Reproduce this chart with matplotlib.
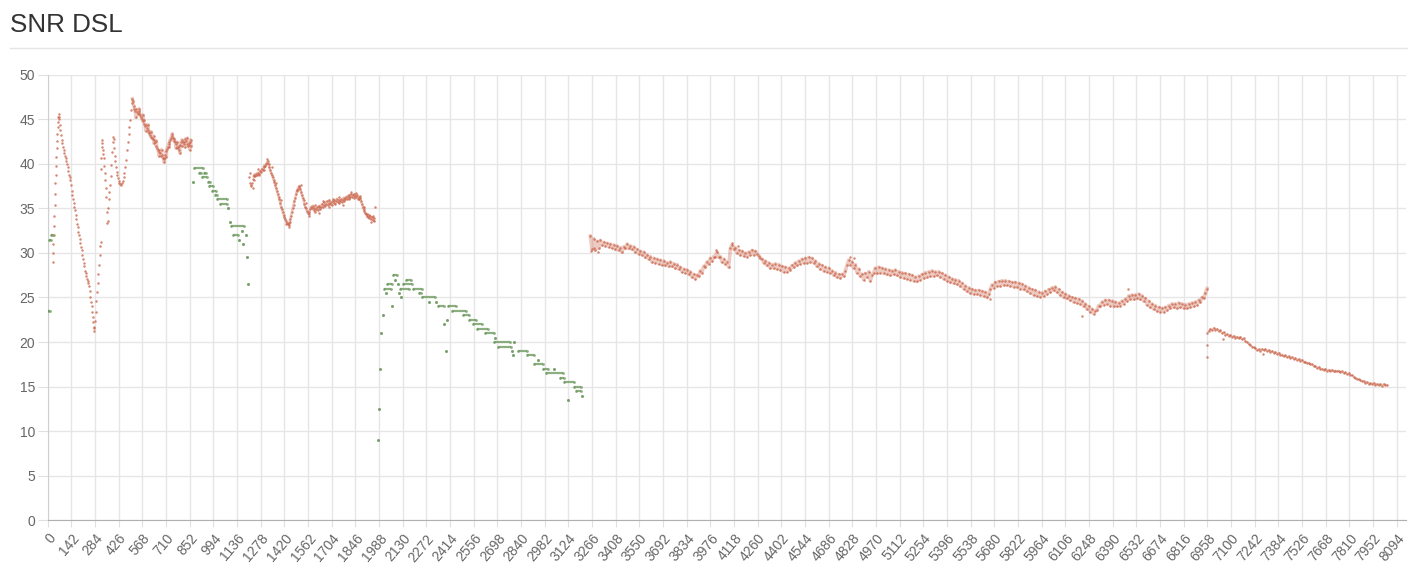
import numpy as np
import matplotlib.pyplot as plt
from matplotlib.lines import Line2D

# SNR readings, orange series. First block read at uneven spacing (steep parts)
seg_a = [
    (30, 29.0), (32, 30.0), (34, 31.0), (36, 32.0), (38, 33.0), (40, 34.2), (42, 35.4), (44, 36.6),
    (46, 37.8), (48, 38.8), (50, 39.8), (52, 40.8), (54, 41.8), (56, 42.6), (58, 43.4), (60, 44.1),
    (62, 44.7), (64, 45.2), (66, 45.6), (68, 45.3), (70, 45.0), (73, 44.4), (76, 43.8), (80, 43.2),
    (84, 42.7), (88, 42.3), (92, 41.9), (96, 41.6), (100, 41.2), (104, 40.9), (108, 40.6), (112, 40.3),
    (116, 40.0), (120, 39.6), (124, 39.2), (128, 38.8), (132, 38.5), (136, 38.2), (140, 37.6), (144, 37.0),
    (148, 36.5), (152, 36.0), (156, 35.6), (160, 35.2), (164, 34.8), (168, 34.3), (172, 33.8), (176, 33.3),
    (180, 32.9), (184, 32.4), (188, 32.0), (192, 31.6), (196, 31.1), (200, 30.7), (204, 30.3), (208, 29.8),
    (212, 29.3), (216, 28.9), (220, 28.5), (224, 28.0), (228, 27.7), (232, 27.4), (236, 27.1), (240, 26.9),
    (244, 26.6), (248, 26.3), (252, 25.7), (256, 25.1), (260, 24.5), (263, 24.0), (266, 23.4), (269, 22.8),
    (272, 22.2), (275, 21.7), (277, 21.2), (280, 21.6), (284, 22.4), (288, 23.4), (292, 24.6), (296, 25.6),
    (300, 26.6), (304, 27.6), (308, 28.7), (312, 29.8), (316, 30.8), (318, 31.2),
    (320, 39.4), (322, 40.6), (324, 42.7), (326, 42.3), (328, 41.9), (331, 41.5), (334, 41.1), (337, 40.6),
    (340, 39.8), (343, 39.0), (346, 38.2), (349, 37.3), (352, 36.3), (355, 34.6), (357, 33.4), (359, 33.6),
    (362, 35.0), (366, 36.0), (370, 36.8), (374, 37.6), (378, 38.6), (382, 39.9), (386, 41.3), (390, 42.4),
    (394, 43.0), (397, 42.8), (400, 41.8), (403, 40.9), (406, 40.3), (410, 39.6), (414, 39.1), (418, 38.7),
    (422, 38.4), (426, 38.1), (430, 37.9), (435, 37.7), (440, 37.6), (445, 37.8), (450, 38.1), (455, 38.5),
    (460, 39.0), (465, 39.6), (470, 40.4), (475, 41.5), (480, 42.4), (485, 43.3), (490, 44.1), (495, 44.9),
    (500, 46.0), (504, 46.8), (508, 47.3),
    (512, 47.0), (516, 46.5), (520, 46.2), (525, 45.9), (528, 45.2), (530, 46.1), (535, 45.8), (540, 45.6),
    (545, 45.9), (548, 46.2), (550, 45.7), (555, 45.5), (560, 45.3), (565, 45.0), (570, 44.8), (572, 45.5),
    (575, 44.9), (580, 44.5), (585, 44.2), (588, 43.7), (590, 44.4), (595, 44.0), (600, 43.8), (603, 44.4),
    (605, 43.5), (610, 43.6), (615, 43.2), (620, 43.0), (622, 43.6), (625, 42.9), (630, 42.8), (635, 43.1),
    (637, 42.3), (640, 42.7), (645, 42.4), (650, 42.0), (652, 42.6), (655, 41.8), (660, 41.6), (665, 41.3),
    (668, 40.9), (670, 41.5), (675, 41.2), (680, 40.9), (683, 41.6), (685, 41.0), (690, 40.7), (695, 40.6),
    (698, 40.2), (700, 40.5), (705, 41.0), (710, 41.4), (712, 40.8), (715, 41.7), (720, 41.9), (725, 42.2),
    (728, 41.9), (730, 42.4), (735, 42.7), (740, 42.9), (745, 43.1), (748, 43.4), (750, 42.9), (755, 42.6),
    (760, 42.8), (765, 42.5), (768, 41.8), (770, 42.2), (775, 41.9), (778, 42.4), (780, 41.8), (785, 42.0),
    (790, 41.6), (793, 41.2), (795, 42.1), (800, 42.4), (805, 42.7), (808, 42.0), (810, 42.5), (815, 42.2),
    (820, 42.4), (823, 41.9), (825, 42.8), (830, 42.6), (835, 42.2), (838, 42.9), (840, 42.0), (845, 42.3),
    (850, 42.1), (852, 41.6), (855, 42.4), (858, 42.7), (860, 42.0),
]

# second orange block, every 5 samples from 1235
seg_b_start = 1235
seg_b_y = [
    38.6, 38.8, 38.6, 38.9, 38.7, 39.0, 38.8, 38.9, 39.2, 39.1,
    39.4, 39.3, 39.6, 39.8, 39.7, 40.0, 40.1, 40.3, 40.0, 39.6,
    39.3, 39.0, 38.8, 38.5, 38.2, 38.0, 37.6, 37.3, 37.0, 36.6,
    36.3, 36.0, 35.6, 35.2, 34.9, 34.6, 34.3, 34.0, 33.8, 33.6,
    33.4, 33.3, 33.1, 33.4, 33.8, 34.2, 34.6, 35.0, 35.4, 35.8,
    36.2, 36.6, 37.0, 37.2, 37.4, 37.5, 37.2, 36.8, 36.5, 36.2,
    35.9, 35.5, 35.2, 35.0, 34.7, 34.5, 34.4, 34.6, 34.9, 35.2,
    35.0, 35.3, 34.8, 35.0, 34.6, 34.9, 35.2, 34.8, 35.1, 35.3,
    34.9, 35.2, 35.5, 35.1, 35.4, 35.7, 35.3, 35.5, 35.8, 35.4,
    35.6, 35.9, 35.5, 35.7, 35.4, 35.8, 35.6, 35.9, 35.5, 35.8,
    36.1, 35.7, 35.9, 35.6, 35.8, 36.0, 35.7, 35.9, 36.2, 35.8,
    36.1, 36.3, 36.0, 36.4, 36.2, 36.5, 36.3, 36.6, 36.3, 36.5,
    36.2, 36.6, 36.4, 36.3, 36.5, 36.1, 36.3, 36.0, 36.2, 35.8,
    35.5, 35.2, 34.9, 34.7, 34.5, 34.4, 34.2, 34.0, 34.3, 33.9,
    34.1, 33.8, 34.0, 33.7, 33.9, 33.6,
]
seg_b_extra = [
    (1210, 38.5), (1212, 39.0), (1214, 37.8), (1218, 37.6), (1222, 37.5), (1226, 37.9), (1230, 38.3),
    (1232, 37.3), (1240, 38.2), (1262, 39.4), (1300, 39.3), (1318, 40.5), (1343, 39.6), (1372, 37.9),
    (1398, 35.9), (1428, 33.2), (1447, 32.9), (1456, 33.5), (1493, 37.1), (1518, 37.6), (1547, 35.6),
    (1568, 34.1), (1603, 35.4), (1627, 34.5), (1652, 35.8), (1688, 35.2), (1712, 36.1), (1748, 36.3),
    (1772, 35.4), (1808, 36.0), (1822, 36.8), (1848, 36.7), (1872, 36.4), (1897, 35.2), (1918, 34.4),
    (1942, 33.5), (1952, 34.2), (1966, 35.2),
]

# third orange block, every 10 samples from 3256 (one row = 100 samples)
seg_c_start = 3256
seg_c_y = [
    31.9, 30.4, 31.6, 30.3, 31.3, 30.5, 31.4, 30.9, 31.2, 30.8,
    31.1, 30.7, 31.0, 30.6, 30.9, 30.4, 30.8, 30.3, 30.6, 30.1,
    30.7, 30.5, 31.0, 30.5, 30.8, 30.4, 30.7, 30.1, 30.4, 29.9,
    30.2, 29.8, 30.1, 29.5, 29.8, 29.3, 29.6, 29.0, 29.4, 28.9,
    29.3, 28.8, 29.2, 28.7, 29.1, 28.6, 28.9, 28.5, 29.0, 28.5,
    28.8, 28.3, 28.7, 28.2, 28.4, 27.9, 28.2, 27.8, 28.1, 27.6,
    27.9, 27.3, 27.6, 27.1, 27.5, 27.4, 28.0, 27.8, 28.5, 28.4,
    29.0, 28.8, 29.4, 29.1, 29.6, 29.6, 30.1, 29.5, 29.6, 29.0,
    29.3, 28.8, 29.0, 28.4, 30.5, 30.9, 30.4, 30.6, 30.0, 30.3,
    29.8, 30.2, 29.7, 30.0, 29.6, 30.1, 29.8, 30.3, 29.8, 30.2,
    29.9, 29.7, 29.4, 29.3, 28.9, 29.1, 28.6, 28.9, 28.3, 28.7,
    28.3, 28.8, 28.2, 28.7, 28.1, 28.5, 27.9, 28.4, 27.9, 28.3,
    28.1, 28.6, 28.4, 28.9, 28.6, 29.1, 28.8, 29.3, 28.9, 29.4,
    28.9, 29.5, 29.0, 29.4, 28.9, 29.1, 28.5, 28.8, 28.2, 28.6,
    28.0, 28.4, 27.9, 28.3, 27.8, 28.0, 27.5, 27.8, 27.3, 27.6,
    27.2, 27.6, 27.4, 28.0, 28.6, 29.2, 28.7, 29.0, 28.3, 28.7,
    27.8, 28.2, 27.4, 27.6, 27.0, 27.7, 27.3, 27.9, 26.9, 27.5,
    27.8, 28.3, 27.7, 28.4, 27.8, 28.3, 27.7, 28.2, 27.6, 28.1,
    27.5, 28.0, 27.6, 28.1, 27.5, 27.9, 27.3, 27.8, 27.2, 27.7,
    27.1, 27.6, 27.0, 27.5, 26.9, 27.3, 26.8, 27.4, 27.0, 27.6,
    27.2, 27.8, 27.3, 27.9, 27.4, 28.0, 27.4, 27.9, 27.5, 27.9,
    27.3, 27.7, 27.1, 27.5, 26.9, 27.3, 26.7, 27.1, 26.6, 27.0,
    26.5, 26.9, 26.3, 26.6, 26.0, 26.3, 25.7, 26.1, 25.5, 25.9,
    25.4, 25.8, 25.4, 25.8, 25.3, 25.7, 25.2, 25.6, 25.0, 25.4,
    25.9, 26.4, 26.1, 26.7, 26.3, 26.8, 26.3, 26.9, 26.4, 26.9,
    26.4, 26.8, 26.3, 26.7, 26.2, 26.7, 26.2, 26.6, 26.0, 26.5,
    25.9, 26.3, 25.7, 26.1, 25.5, 25.9, 25.3, 25.8, 25.2, 25.6,
    25.1, 25.5, 25.2, 25.7, 25.4, 25.9, 25.6, 26.1, 25.8, 26.2,
    25.6, 25.9, 25.3, 25.6, 25.0, 25.4, 24.9, 25.2, 24.7, 25.0,
    24.5, 24.9, 24.4, 24.8, 24.3, 24.6, 24.0, 24.3, 23.7, 24.0,
    23.4, 23.7, 23.2, 23.5, 23.6, 24.1, 24.0, 24.5, 24.2, 24.7,
    24.3, 24.7, 24.1, 24.6, 24.0, 24.5, 24.0, 24.4, 24.1, 24.6,
    24.3, 24.8, 24.6, 25.2, 24.8, 25.3, 24.8, 25.3, 24.9, 25.4,
    24.8, 25.2, 24.6, 24.9, 24.2, 24.6, 23.9, 24.3, 23.7, 24.1,
    23.5, 23.9, 23.4, 23.8, 23.4, 23.9, 23.6, 24.1, 23.8, 24.3,
    23.9, 24.3, 23.8, 24.4, 23.9, 24.3, 23.8, 24.2, 23.8, 24.3,
    23.9, 24.4, 24.0, 24.5, 24.2, 24.7, 24.5, 25.0, 24.9, 25.5,
    26.0,
]

# last orange block, every 10 samples from 6966
seg_d_start = 6966
seg_d_y = [
    21.2, 21.5, 21.3, 21.6, 21.4, 21.5, 21.2, 21.3, 21.0, 21.1,
    20.8, 20.9, 20.7, 20.8, 20.6, 20.7, 20.5, 20.6, 20.4, 20.6,
    20.3, 20.4, 20.1, 20.0, 19.8, 19.7, 19.5, 19.4, 19.3, 19.1,
    19.2, 19.0, 19.2, 19.1, 19.2, 19.0, 19.1, 18.9, 19.0, 18.8,
    18.9, 18.7, 18.8, 18.6, 18.6, 18.4, 18.5, 18.3, 18.4, 18.2,
    18.3, 18.1, 18.2, 18.0, 18.1, 17.9, 18.0, 17.8, 17.8, 17.6,
    17.7, 17.5, 17.5, 17.3, 17.3, 17.1, 17.2, 17.0, 17.0, 16.9,
    17.0, 16.8, 16.9, 16.8, 16.9, 16.7, 16.8, 16.7, 16.8, 16.6,
    16.7, 16.5, 16.6, 16.4, 16.5, 16.3, 16.3, 16.1, 16.0, 15.9,
    15.8, 15.7, 15.6, 15.6, 15.4, 15.5, 15.3, 15.4, 15.3, 15.4,
    15.2, 15.3, 15.2, 15.3, 15.1, 15.3, 15.2, 15.2,
]

# stray orange samples off the main band
strays = [
    (3262, 30.2), (3280, 30.5), (3300, 30.1), (4012, 30.3), (4108, 31.1), (4140, 30.8),
    (4816, 29.6), (4836, 29.4), (5654, 24.8), (6204, 22.9), (6484, 25.9),
    (6958, 18.3), (6958, 19.7), (6958, 21.0), (7054, 20.3), (7290, 18.7),
]

# green series: horizontal runs (x start, x end, value), quantised to 0.5 dB
green_runs = [
    (4, 12, 23.5), (10, 20, 31.5), (22, 30, 32.0),
    (872, 872, 38.0), (876, 932, 39.5), (910, 920, 39.0), (940, 952, 39.0), (926, 957, 38.5),
    (960, 972, 38.0), (966, 990, 37.5), (987, 1007, 37.0), (1003, 1013, 36.5), (1017, 1077, 36.0),
    (1033, 1077, 35.5), (1083, 1083, 35.0), (1093, 1093, 33.5), (1097, 1178, 33.0), (1163, 1163, 32.5),
    (1113, 1141, 32.0), (1188, 1188, 32.0), (1147, 1147, 31.5), (1170, 1170, 31.0), (1196, 1196, 29.5),
    (1204, 1204, 26.5),
    (1980, 1980, 9.0), (1987, 1987, 12.5), (1995, 1995, 17.0), (2002, 2002, 21.0), (2010, 2010, 23.0),
    (2064, 2068, 24.0), (2028, 2028, 25.5), (2018, 2058, 26.0), (2038, 2068, 26.5), (2072, 2098, 27.5),
    (2084, 2084, 27.0), (2102, 2102, 26.5), (2110, 2110, 25.5), (2122, 2122, 25.0), (2132, 2188, 26.5),
    (2148, 2178, 27.0), (2114, 2168, 26.0), (2194, 2248, 26.0), (2228, 2238, 25.5), (2248, 2323, 25.0),
    (2289, 2289, 24.5), (2329, 2329, 24.5), (2339, 2379, 24.0), (2399, 2449, 24.0), (2379, 2379, 22.0),
    (2397, 2397, 22.5), (2391, 2391, 19.0), (2423, 2509, 23.5), (2489, 2529, 23.0), (2529, 2569, 22.5),
    (2549, 2603, 22.0), (2575, 2639, 21.5), (2623, 2675, 21.0), (2685, 2685, 20.5), (2675, 2776, 20.0),
    (2796, 2796, 20.0), (2699, 2779, 19.5), (2786, 2786, 19.0), (2790, 2790, 18.5), (2820, 2874, 19.0),
    (2874, 2920, 18.5), (2940, 2940, 18.0), (2920, 2970, 17.5), (2970, 3000, 17.0), (3036, 3036, 17.0),
    (2990, 3090, 16.5), (3074, 3100, 16.0), (3096, 3160, 15.5), (3160, 3200, 15.0), (3170, 3200, 14.5),
    (3204, 3204, 14.0), (3120, 3120, 13.5),
]

x_ticks = list(range(0, 8095, 142))
y_ticks = list(range(0, 51, 5))

ORANGE = "#cd6a51"
GREEN = "#6f9a61"
FONT = ["Liberation Sans", "DejaVu Sans"]

plt.rcParams["font.family"] = FONT

fig = plt.figure(figsize=(14.08, 5.68), dpi=100)

# title and the thin rule under it
fig.text(10 / 1408, 1 - 31.5 / 568, "SNR DSL", fontsize=18.7, color="#333333", va="baseline", ha="left")
fig.add_artist(Line2D([10 / 1408, 1.0], [1 - 47.5 / 568] * 2, color="#e5e5e5", lw=1))

ax = fig.add_axes([47.7 / 1408, (568 - 520.3) / 568, (1406 - 47.7) / 1408, (520.3 - 74.7) / 568])


def dots(x, y, band=0.0, size=3.2):
    # the samples are noisy; a soft trace through them fills the band like the dense original
    if band:
        ax.plot(x, y, color=ORANGE, lw=band, alpha=0.35, zorder=2, solid_joinstyle="round")
    ax.scatter(x, y, s=size, color=ORANGE, alpha=0.8, lw=0, zorder=3)


a = np.array(seg_a)
steep = a[:, 0] < 508
dots(a[steep, 0], a[steep, 1])
dots(a[~steep, 0], a[~steep, 1], band=2.4)

b_x = seg_b_start + 5 * np.arange(len(seg_b_y))
dots(b_x, seg_b_y, band=1.8)
be = np.array(seg_b_extra)
dots(be[:, 0], be[:, 1])

c_x = seg_c_start + 10 * np.arange(len(seg_c_y))
dots(c_x, seg_c_y, band=2.6)

d_x = seg_d_start + 10 * np.arange(len(seg_d_y))
dots(d_x, seg_d_y, band=1.4)

st = np.array(strays)
dots(st[:, 0], st[:, 1])

# green runs
g = np.array(green_runs)
ax.hlines(g[:, 2], g[:, 0], g[:, 1], colors=GREEN, lw=1.6, alpha=0.8, zorder=3)
ax.scatter(np.r_[g[:, 0], g[:, 1]], np.r_[g[:, 2], g[:, 2]], s=4, color=GREEN, alpha=0.8, lw=0, zorder=3)

ax.set_xlim(0, 8150)
ax.set_ylim(0, 50)
ax.set_xticks(x_ticks)
ax.set_xticklabels([str(t) for t in x_ticks])
ax.set_yticks(y_ticks)

ax.grid(True, color="#e6e6e6", lw=1)
ax.set_axisbelow(True)

for side in ["top", "right"]:
    ax.spines[side].set_visible(False)
ax.spines["left"].set_color("#d0d0d0")
ax.spines["bottom"].set_color("#b0b0b0")

ax.tick_params(axis="both", color="#e0e0e0", labelcolor="#666666", labelsize=10)
ax.tick_params(axis="y", length=7, pad=2)
ax.tick_params(axis="x", length=5, pad=3)
plt.setp(ax.get_xticklabels(), rotation=50, ha="right", va="top", rotation_mode="anchor")

fig.savefig("out.png", dpi=100)
